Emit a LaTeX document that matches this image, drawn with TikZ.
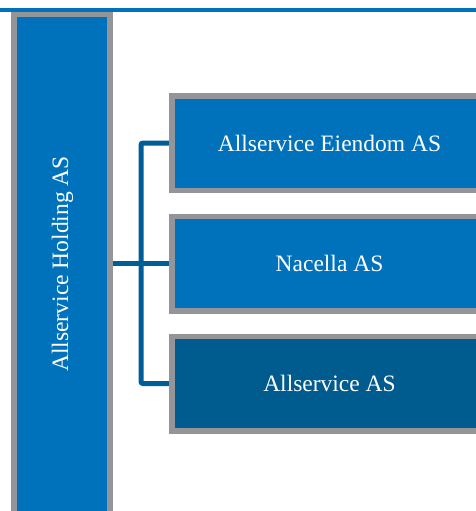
\documentclass[tikz,border=0pt]{standalone}
\usepackage{fontspec}
\setmainfont{Liberation Serif}
\usetikzlibrary{backgrounds}
\definecolor{abl}{RGB}{0,114,187}
\definecolor{adk}{RGB}{0,91,143}
\definecolor{agr}{RGB}{147,149,152}
\definecolor{aln}{RGB}{0,94,150}
\tikzset{box/.style={draw=agr,line width=5.5pt,fill=abl,inner sep=0pt},
  lbl/.style={text=white,font=\fontsize{23.5}{28}\selectfont,inner sep=0pt},
  sub/.style={box,lbl,minimum width=315.5pt,minimum height=94.5pt},
  link/.style={draw=aln,line width=5pt,rounded corners=2pt}}
\begin{document}
\begin{tikzpicture}[x=1pt,y=-1pt]
\useasboundingbox (0,0) rectangle (476,511);
\clip (0,0) rectangle (476,511);
\draw[abl,line width=4pt] (0,10)--(476,10);
% holding
\node[box,minimum width=96pt,minimum height=500pt] (hold) at (61.75,264.75){};
\node[lbl,rotate=90] (holdtxt) at (62.5,264){Allservice Holding AS};
% daughters
\node[sub] (eien) at (329.5,143){Allservice Eiendom AS};
\node[sub] (nac) at (329.5,263.5){Nacella AS};
\node[sub,fill=adk] (alls) at (329.5,383.5){Allservice AS};
\coordinate (bus) at (141,263.5);
\begin{pgfonlayer}{background}
\draw[link] (hold.east|-nac.west)--(nac.west);
\draw[link] (eien.west)-|(bus)|-(alls.west);
\end{pgfonlayer}
\end{tikzpicture}
\end{document}
